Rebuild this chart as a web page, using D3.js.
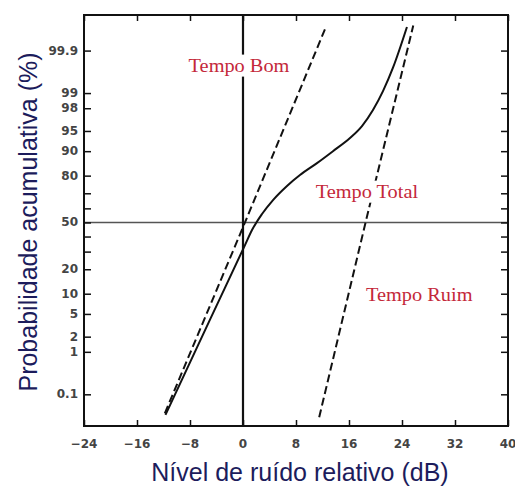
<!DOCTYPE html>
<html lang="pt">
<head>
    <meta charset="UTF-8">
    <title>Probabilidade acumulativa</title>
    <script src="https://d3js.org/d3.v7.min.js"></script>
    <style>
        body { margin: 0; background: #fff; }
        svg { display: block; }
    </style>
</head>
<body>
    <div id="chart"></div>
    <script>
        // x values in dB, y values in cumulative %
        const xTicks = [-24, -16, -8, 0, 8, 16, 24, 32, 40];
        const yTicks = [0.1, 1, 2, 5, 10, 20, 50, 80, 90, 95, 98, 99, 99.9];
        const yMinorTicks = [30, 40, 60, 70];

        const bomX = [-11.8, 0.3, 12.6];
        const bomP = [0.03, 50, 99.98];

        const ruimX = [11.5, 18.5, 25.7];
        const ruimP = [0.023, 50, 99.98];

        const totalX = [-11.7, -5, 0.3, 1.36, 2.87, 4.53, 6.64, 8.6, 11.17, 13.58, 16.15, 17.96, 19.62, 21.13, 22.64, 24.75];
        const totalP = [0.027, 4.0, 34.2, 44.6, 56, 65.6, 74.4, 80.3, 85.7, 90, 93.55, 95.85, 97.84, 99.09, 99.73, 99.978];

        const labels = [
            { text: "Tempo Bom", x: -0.6, p: 99.76 },
            { text: "Tempo Total", x: 18.7, p: 71 },
            { text: "Tempo Ruim", x: 26.6, p: 9.5 }
        ];

        // inverse normal cdf (Acklam)
        function probit(p) {
            const a = [-39.69683028665376, 220.9460984245205, -275.9285104469687, 138.3577518672690, -30.66479806614716, 2.506628277459239];
            const b = [-54.47609879822406, 161.5858368580409, -155.6989798598866, 66.80131188771972, -13.28068155288572];
            const c = [-0.007784894002430293, -0.3223964580411365, -2.400758277161838, -2.549732539343734, 4.374664141464968, 2.938163982698783];
            const d = [0.007784695709041462, 0.3224671290700398, 2.445134137142996, 3.754408661907416];
            const pl = 0.02425;
            let q, r;
            if (p < pl) {
                q = Math.sqrt(-2 * Math.log(p));
                return (((((c[0]*q+c[1])*q+c[2])*q+c[3])*q+c[4])*q+c[5]) / ((((d[0]*q+d[1])*q+d[2])*q+d[3])*q+1);
            } else if (p <= 1 - pl) {
                q = p - 0.5; r = q * q;
                return (((((a[0]*r+a[1])*r+a[2])*r+a[3])*r+a[4])*r+a[5])*q / (((((b[0]*r+b[1])*r+b[2])*r+b[3])*r+b[4])*r+1);
            }
            q = Math.sqrt(-2 * Math.log(1 - p));
            return -(((((c[0]*q+c[1])*q+c[2])*q+c[3])*q+c[4])*q+c[5]) / ((((d[0]*q+d[1])*q+d[2])*q+d[3])*q+1);
        }

        const W = 515, H = 486;
        const mLeft = 84, mRight = 508, mTop = 15, mBottom = 426;

        const x = d3.scaleLinear().domain([-24, 40]).range([mLeft, mRight]);
        const zScale = d3.scaleLinear().domain([-3.66, 3.73]).range([mBottom, mTop]);
        const y = pct => zScale(probit(pct / 100));

        const svg = d3.select('#chart').append('svg')
            .attr('width', W)
            .attr('height', H);

        // 50% line
        svg.append('line')
            .attr('x1', mLeft).attr('x2', mRight)
            .attr('y1', y(50)).attr('y2', y(50))
            .attr('stroke', '#555').attr('stroke-width', 1.5);

        // 0 dB line
        svg.append('line')
            .attr('x1', x(0)).attr('x2', x(0))
            .attr('y1', mTop).attr('y2', mBottom)
            .attr('stroke', '#111').attr('stroke-width', 2.2);

        const line = d3.line().x(d => x(d[0])).y(d => y(d[1]));

        svg.append('path')
            .datum(d3.zip(bomX, bomP))
            .attr('d', line)
            .attr('fill', 'none').attr('stroke', '#111').attr('stroke-width', 2)
            .attr('stroke-dasharray', '8,4');

        svg.append('path')
            .datum(d3.zip(ruimX, ruimP))
            .attr('d', line)
            .attr('fill', 'none').attr('stroke', '#111').attr('stroke-width', 2)
            .attr('stroke-dasharray', '8,4');

        svg.append('path')
            .datum(d3.zip(totalX, totalP))
            .attr('d', line.curve(d3.curveMonotoneX))
            .attr('fill', 'none').attr('stroke', '#111').attr('stroke-width', 2);

        // labels with white background
        labels.forEach(l => {
            const g = svg.append('g');
            const t = g.append('text')
                .attr('x', x(l.x)).attr('y', y(l.p))
                .attr('text-anchor', 'middle')
                .attr('dominant-baseline', 'central')
                .attr('font-family', '"Liberation Serif", serif')
                .attr('font-size', 18)
                .attr('fill', '#c4283a')
                .text(l.text);
            const w = t.node().getComputedTextLength();
            t.attr('textLength', w * 1.13).attr('lengthAdjust', 'spacingAndGlyphs');
            const bb = t.node().getBBox();
            g.insert('rect', 'text')
                .attr('x', bb.x - 3).attr('y', bb.y - 1)
                .attr('width', bb.width + 6).attr('height', bb.height + 2)
                .attr('fill', '#fff');
        });

        // frame
        svg.append('rect')
            .attr('x', mLeft).attr('y', mTop)
            .attr('width', mRight - mLeft).attr('height', mBottom - mTop)
            .attr('fill', 'none').attr('stroke', '#111').attr('stroke-width', 2);

        // axes (ticks inward)
        svg.append('g')
            .attr('transform', `translate(0,${mBottom})`)
            .call(d3.axisTop(x).tickValues(xTicks).tickSize(6).tickFormat(''))
            .call(g => g.select('.domain').remove());
        svg.append('g')
            .attr('transform', `translate(0,${mTop})`)
            .call(d3.axisBottom(x).tickValues(xTicks).tickSize(6).tickFormat(''))
            .call(g => g.select('.domain').remove());

        const allY = yTicks.concat(yMinorTicks).map(v => probit(v / 100));
        svg.append('g')
            .attr('transform', `translate(${mLeft},0)`)
            .call(d3.axisRight(zScale).tickValues(allY).tickSize(7).tickFormat(''))
            .call(g => g.select('.domain').remove());
        svg.append('g')
            .attr('transform', `translate(${mRight},0)`)
            .call(d3.axisLeft(zScale).tickValues(allY).tickSize(7).tickFormat(''))
            .call(g => g.select('.domain').remove());
        svg.selectAll('.tick line').attr('stroke', '#111').attr('stroke-width', 1.5);

        // tick labels
        svg.append('g').selectAll('text')
            .data(xTicks).join('text')
            .attr('x', d => x(d)).attr('y', mBottom + 22)
            .attr('text-anchor', 'middle')
            .attr('font-family', '"DejaVu Sans", sans-serif')
            .attr('font-weight', 'bold')
            .attr('font-size', 12)
            .attr('fill', '#444')
            .text(d => d3.format('d')(d));

        svg.append('g').selectAll('text')
            .data(yTicks).join('text')
            .attr('x', mLeft - 6).attr('y', d => y(d))
            .attr('text-anchor', 'end')
            .attr('dominant-baseline', 'central')
            .attr('font-family', '"DejaVu Sans", sans-serif')
            .attr('font-weight', 'bold')
            .attr('font-size', 12)
            .attr('fill', '#444')
            .text(d => d);

        // axis titles
        svg.append('text')
            .attr('x', 300).attr('y', 481)
            .attr('text-anchor', 'middle')
            .attr('font-family', '"Liberation Sans", Arial, sans-serif')
            .attr('font-size', 25)
            .attr('fill', '#1c1c5c')
            .text('Nível de ruído relativo (dB)');

        svg.append('text')
            .attr('transform', `translate(37,222) rotate(-90)`)
            .attr('text-anchor', 'middle')
            .attr('font-family', '"Liberation Sans", Arial, sans-serif')
            .attr('font-size', 25)
            .attr('fill', '#1c1c5c')
            .text('Probabilidade acumulativa (%)');
    </script>
</body>
</html>
